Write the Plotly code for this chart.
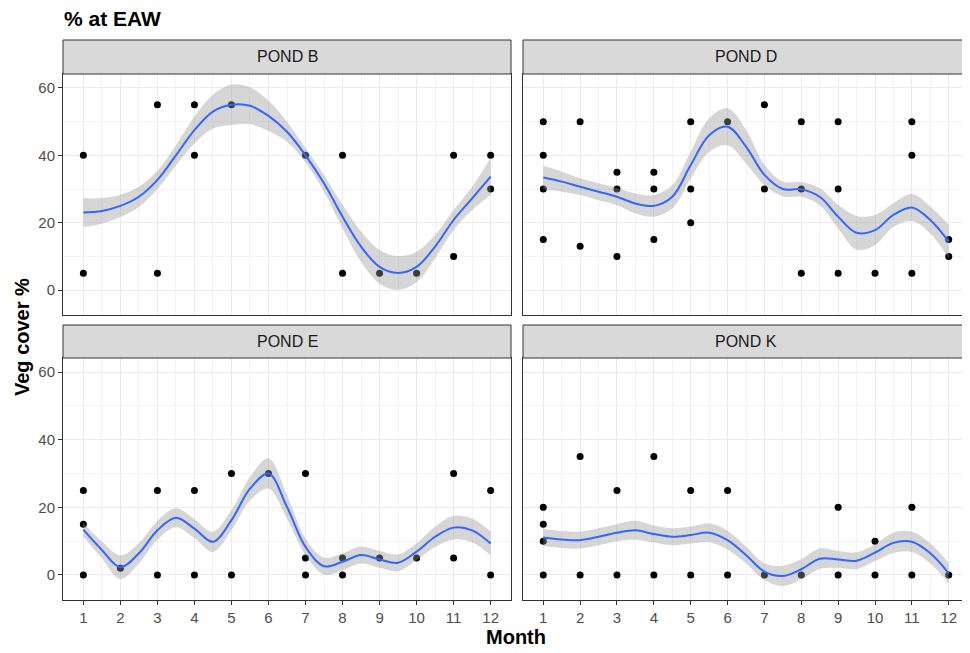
import plotly.graph_objects as go

# ---------------- data ----------------
ponds = ["POND B", "POND D", "POND E", "POND K"]

pond_B_month = [1, 1, 3, 3, 4, 4, 5, 7, 8, 8, 9, 10, 11, 11, 12, 12]
pond_B_cover = [40, 5, 55, 5, 55, 40, 55, 40, 40, 5, 5, 5, 40, 10, 40, 30]

pond_D_month = [1, 1, 1, 1, 2, 2, 3, 3, 3, 4, 4, 4, 5, 5, 5, 6, 7, 7, 8, 8, 8,
                9, 9, 9, 10, 11, 11, 11, 12, 12]
pond_D_cover = [50, 40, 30, 15, 50, 13, 35, 30, 10, 35, 30, 15, 50, 30, 20, 50, 55, 30,
                50, 30, 5, 50, 30, 5, 5, 50, 40, 5, 15, 10]

pond_E_month = [1, 1, 1, 2, 3, 3, 4, 4, 5, 5, 6, 7, 7, 7, 8, 8, 9, 10, 11, 11, 12, 12]
pond_E_cover = [25, 15, 0, 2, 25, 0, 25, 0, 30, 0, 30, 30, 5, 0, 5, 0, 5, 5, 30, 5, 25, 0]

pond_K_month = [1, 1, 1, 1, 2, 2, 3, 3, 4, 4, 5, 5, 6, 6, 7, 8, 9, 9, 10, 10, 11, 11, 12]
pond_K_cover = [20, 15, 10, 0, 35, 0, 25, 0, 35, 0, 25, 0, 25, 0, 0, 0, 20, 0, 10, 0, 20, 0, 0]

# smoothed fit at half-month positions
fit_month = [1, 1.5, 2, 2.5, 3, 3.5, 4, 4.5, 5, 5.5, 6, 6.5, 7, 7.5, 8, 8.5, 9, 9.5,
             10, 10.5, 11, 11.5, 12]
fit_B = [23.0, 23.5, 25.0, 27.7, 32.7, 40.0, 47.5, 53.0, 55.0, 54.7, 51.7, 47.0, 40.0,
         31.7, 21.8, 12.9, 6.9, 5.1, 6.9, 12.9, 20.8, 27.2, 33.7]
se_B = [4.3, 3.8, 3.3, 3.0, 2.7, 3.0, 4.0, 5.0, 6.0, 5.5, 4.5, 3.0, 2.2, 2.5, 3.5, 4.5,
        5.0, 5.0, 4.5, 3.5, 3.0, 3.5, 5.5]
fit_D = [33.4, 32.2, 30.7, 29.2, 27.7, 25.7, 25.0, 27.7, 37.1, 46.0, 48.5, 42.6, 34.2,
         30.0, 29.9, 27.7, 21.8, 17.0, 17.8, 22.3, 24.5, 20.8, 14.4]
se_D = [3.5, 3.0, 2.5, 2.5, 2.5, 3.0, 3.2, 3.5, 4.0, 5.0, 5.5, 5.0, 3.0, 2.2, 2.2, 2.5,
        3.5, 5.0, 4.5, 3.5, 4.0, 4.0, 5.0]
fit_E = [13.4, 7.4, 2.3, 6.4, 13.2, 16.9, 13.7, 9.8, 16.2, 25.5, 30.0, 20.1, 8.3, 2.6,
         3.9, 5.9, 4.6, 3.6, 6.9, 11.3, 14.0, 13.2, 9.3]
se_E = [2.0, 2.5, 3.5, 3.0, 2.8, 2.8, 2.8, 3.0, 3.0, 3.5, 4.5, 3.5, 2.5, 2.5, 2.5, 2.5,
        2.5, 2.5, 2.5, 3.0, 3.5, 3.5, 3.5]
fit_K = [11.1, 10.5, 10.3, 11.3, 12.5, 13.2, 12.1, 11.3, 11.8, 12.5, 10.3, 5.9, 1.0,
         -0.3, 1.7, 4.8, 4.6, 4.2, 6.6, 9.5, 9.8, 6.4, 0.5]
se_K = [2.5, 2.5, 2.5, 2.5, 2.5, 2.8, 2.5, 2.5, 2.5, 2.8, 2.8, 2.5, 2.5, 3.0, 3.0, 3.0,
        2.5, 2.5, 2.5, 3.0, 3.0, 3.0, 3.0]

month_ticks = [1, 2, 3, 4, 5, 6, 7, 8, 9, 10, 11, 12]
cover_ticks = [0, 20, 40, 60]

points = [(pond_B_month, pond_B_cover), (pond_D_month, pond_D_cover),
          (pond_E_month, pond_E_cover), (pond_K_month, pond_K_cover)]
fits = [(fit_B, se_B), (fit_D, se_D), (fit_E, se_E), (fit_K, se_K)]

# ---------------- layout geometry (window pixels) ----------------
OFF = 8                      # default page body margin
W, H = 970 - OFF, 653 - OFF  # figure size that fits the window
FONT = "Liberation Sans, Arial, sans-serif"
cols = [(63, 511), (523, 969)]
rows = [(74, 315, 40), (358, 600, 325)]  # plot top, plot bottom, strip top


def px(v):
    return (v - OFF) / W


def py(v):
    return (H - (v - OFF)) / H


fig = go.Figure()
shapes, annots = [], []

for i, name in enumerate(ponds):
    r, c = divmod(i, 2)
    ax = "" if i == 0 else str(i + 1)
    xref, yref = "x" + ax, "y" + ax
    mx, my = points[i]
    fit, se = fits[i]
    lower = [f - s for f, s in zip(fit, se)]
    upper = [f + s for f, s in zip(fit, se)]

    fig.add_trace(go.Scatter(x=mx, y=my, mode="markers", xaxis=xref, yaxis=yref,
                             marker=dict(color="black", size=7), showlegend=False,
                             hoverinfo="x+y"))
    fig.add_trace(go.Scatter(x=fit_month, y=lower, mode="lines", xaxis=xref, yaxis=yref,
                             line=dict(width=0, shape="spline"), showlegend=False,
                             hoverinfo="skip"))
    fig.add_trace(go.Scatter(x=fit_month, y=upper, mode="lines", xaxis=xref, yaxis=yref,
                             line=dict(width=0, shape="spline"), fill="tonexty",
                             fillcolor="rgba(153,153,153,0.4)", showlegend=False,
                             hoverinfo="skip"))
    fig.add_trace(go.Scatter(x=fit_month, y=fit, mode="lines", xaxis=xref, yaxis=yref,
                             line=dict(color="#3366FF", width=2, shape="spline"),
                             showlegend=False))

    x0, x1 = cols[c]
    ptop, pbot, stop = rows[r]
    bottom = r == 1
    left = c == 0
    fig.update_layout(**{
        "xaxis" + ax: dict(
            domain=[px(x0), px(x1)], anchor=yref, range=[0.45, 12.55],
            tickvals=month_ticks, showticklabels=bottom,
            ticks="outside" if bottom else "", ticklen=4, tickcolor="#333333",
            showgrid=True, gridcolor="#EBEBEB", gridwidth=1.2,
            minor=dict(tickvals=[m + 0.5 for m in month_ticks[:-1]], showgrid=True,
                       gridcolor="#F3F3F3", gridwidth=0.8, ticks=""),
            showline=True, mirror=True, linecolor="#333333", linewidth=1,
            zeroline=False, tickfont=dict(family=FONT, size=15, color="#4D4D4D"),
        ),
        "yaxis" + ax: dict(
            domain=[py(pbot), py(ptop)], anchor=xref, range=[-7.4, 64.15],
            tickvals=cover_ticks, showticklabels=left,
            ticks="outside" if left else "", ticklen=4, tickcolor="#333333",
            showgrid=True, gridcolor="#EBEBEB", gridwidth=1.2,
            minor=dict(tickvals=[10, 30, 50], showgrid=True,
                       gridcolor="#F3F3F3", gridwidth=0.8, ticks=""),
            showline=True, mirror=True, linecolor="#333333", linewidth=1,
            zeroline=False, tickfont=dict(family=FONT, size=15, color="#4D4D4D"),
        ),
    })
    shapes.append(dict(type="rect", xref="paper", yref="paper",
                       x0=px(x0), x1=px(x1), y0=py(ptop), y1=py(stop),
                       fillcolor="#D9D9D9", line=dict(color="#333333", width=1)))
    annots.append(dict(text=name, xref="paper", yref="paper",
                       x=px((x0 + x1) / 2), y=py((ptop + stop) / 2),
                       showarrow=False, xanchor="center", yanchor="middle",
                       font=dict(family=FONT, size=16, color="#1A1A1A")))

annots.append(dict(text="<b>% at EAW</b>", xref="paper", yref="paper", x=px(62),
                   y=py(19), xanchor="left", yanchor="middle", showarrow=False,
                   font=dict(family=FONT, size=21, color="black")))
annots.append(dict(text="<b>Veg cover %</b>", xref="paper", yref="paper", x=px(22),
                   y=py(337), xanchor="center", yanchor="middle", textangle=-90,
                   showarrow=False, font=dict(family=FONT, size=20, color="black")))
annots.append(dict(text="<b>Month</b>", xref="paper", yref="paper", x=px(516),
                   y=py(637), xanchor="center", yanchor="middle",
                   showarrow=False, font=dict(family=FONT, size=20, color="black")))

fig.update_layout(width=W, height=H, margin=dict(l=0, r=0, t=0, b=0),
                  paper_bgcolor="white", plot_bgcolor="white",
                  shapes=shapes, annotations=annots, showlegend=False)

fig.write_html("out.html")
